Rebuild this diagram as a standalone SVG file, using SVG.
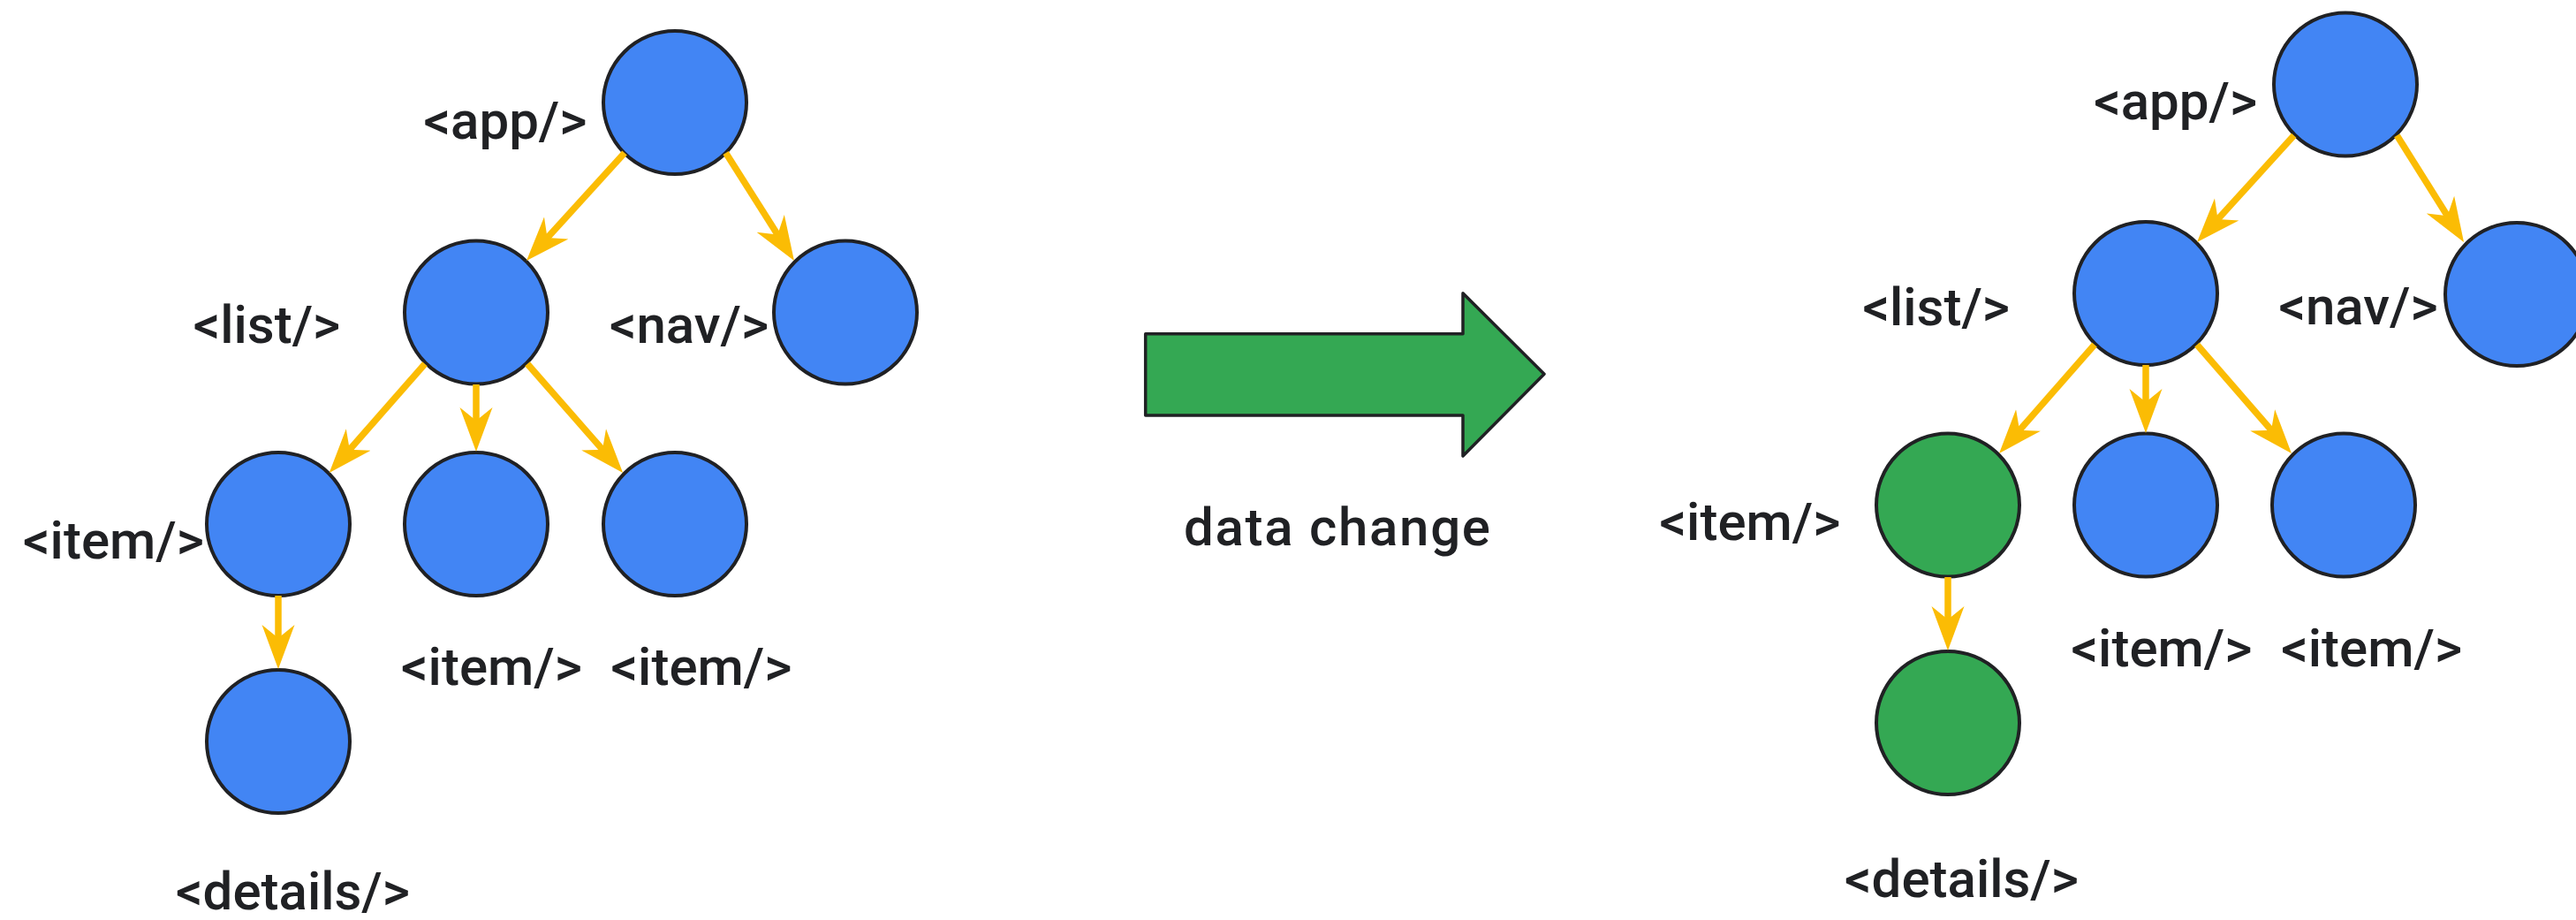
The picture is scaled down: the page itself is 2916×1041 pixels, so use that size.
<svg xmlns="http://www.w3.org/2000/svg" width="2916" height="1041" viewBox="0 0 2916 1041">
  <style>
    .node { stroke: #202124; stroke-width: 4; }
    .blue { fill: #4285F4; }
    .green { fill: #34A853; }
    .edge { fill: none; stroke: #FBBC04; stroke-width: 7.5; }
    .lbl { font-family: Roboto, "Liberation Sans", sans-serif; font-size: 60px; font-weight: 500; fill: #202124; text-anchor: middle; }
  </style>
  <defs>
    <marker id="ah" markerUnits="userSpaceOnUse" markerWidth="52" markerHeight="40" viewBox="0 -20 52 40" refX="20" refY="0" orient="auto">
      <path d="M50,0 L0,-18.5 L15,0 L0,18.5 Z" fill="#FBBC04"/>
    </marker>
  </defs>
  <rect width="2916" height="1041" fill="#FFFFFF"/>

  <!-- Left tree nodes -->
  <g id="l-app"><circle class="node blue" cx="764" cy="116" r="81"/><text class="lbl" x="572" y="157">&lt;app/&gt;</text></g>
  <g id="l-list"><circle class="node blue" cx="539" cy="353.5" r="81"/><text class="lbl" x="302" y="388">&lt;list/&gt;</text></g>
  <g id="l-nav"><circle class="node blue" cx="957" cy="353.5" r="81"/><text class="lbl" x="780" y="388">&lt;nav/&gt;</text></g>
  <g id="l-item1"><circle class="node blue" cx="315" cy="593" r="81"/><text class="lbl" x="128.5" y="632">&lt;item/&gt;</text></g>
  <g id="l-item2"><circle class="node blue" cx="539" cy="593" r="81"/><text class="lbl" x="556.5" y="775">&lt;item/&gt;</text></g>
  <g id="l-item3"><circle class="node blue" cx="764" cy="593" r="81"/><text class="lbl" x="794" y="775">&lt;item/&gt;</text></g>
  <g id="l-details"><circle class="node blue" cx="315" cy="839" r="81"/><text class="lbl" x="331.5" y="1029">&lt;details/&gt;</text></g>

  <!-- Transition arrow -->
  <g id="data-change">
    <polygon points="1296.7,377.7 1656,377.7 1656,331.7 1748,423.3 1656,516 1656,470 1296.7,470" fill="#34A853" stroke="#202124" stroke-width="3.5" stroke-linejoin="round"/>
    <text class="lbl" x="1513.5" y="617" textLength="347">data change</text>
  </g>

  <!-- Right tree nodes -->
  <g id="r-app"><circle class="node blue" cx="2655" cy="95.5" r="81"/><text class="lbl" x="2462.7" y="135">&lt;app/&gt;</text></g>
  <g id="r-list"><circle class="node blue" cx="2429" cy="332" r="81"/><text class="lbl" x="2191.7" y="368">&lt;list/&gt;</text></g>
  <g id="r-nav"><circle class="node blue" cx="2849" cy="333" r="81"/><text class="lbl" x="2669.5" y="367">&lt;nav/&gt;</text></g>
  <g id="r-item1"><circle class="node green" cx="2205" cy="571.5" r="81"/><text class="lbl" x="1981" y="611">&lt;item/&gt;</text></g>
  <g id="r-item2"><circle class="node blue" cx="2429" cy="571.5" r="81"/><text class="lbl" x="2447" y="754">&lt;item/&gt;</text></g>
  <g id="r-item3"><circle class="node blue" cx="2653" cy="571.5" r="81"/><text class="lbl" x="2684.7" y="754">&lt;item/&gt;</text></g>
  <g id="r-details"><circle class="node green" cx="2205" cy="818" r="81"/><text class="lbl" x="2220.5" y="1015">&lt;details/&gt;</text></g>

  <!-- Connectors -->
  <g id="connectors">
    <path class="edge" marker-end="url(#ah)" d="M707,173 L616.2,272.8"/>
    <path class="edge" marker-end="url(#ah)" d="M821.6,173 L882.9,269.7"/>
    <path class="edge" marker-end="url(#ah)" d="M481,411.7 L392.5,512.5"/>
    <path class="edge" marker-end="url(#ah)" d="M539,435 L539,481"/>
    <path class="edge" marker-end="url(#ah)" d="M597,411.7 L685.3,512.4"/>
    <path class="edge" marker-end="url(#ah)" d="M315,674 L315,727"/>

    <path class="edge" marker-end="url(#ah)" d="M2596.7,153.3 L2507.2,251.8"/>
    <path class="edge" marker-end="url(#ah)" d="M2713.3,153.3 L2773.1,248.6"/>
    <path class="edge" marker-end="url(#ah)" d="M2371,390 L2282.8,490.5"/>
    <path class="edge" marker-end="url(#ah)" d="M2429,413 L2429,460"/>
    <path class="edge" marker-end="url(#ah)" d="M2487,390 L2574.3,490.4"/>
    <path class="edge" marker-end="url(#ah)" d="M2205,653 L2205,706"/>
  </g>
</svg>
